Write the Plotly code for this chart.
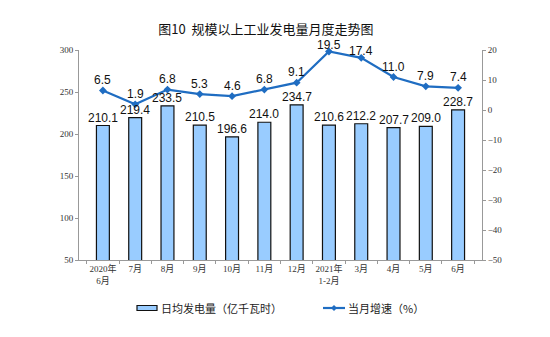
import plotly.graph_objects as go

months = ["2020年<br>6月", "7月", "8月", "9月", "10月", "11月", "12月",
          "2021年<br>1-2月", "3月", "4月", "5月", "6月"]
daily_output = [210.1, 219.4, 233.5, 210.5, 196.6, 214.0, 234.7,
                210.6, 212.2, 207.7, 209.0, 228.7]
growth = [6.5, 1.9, 6.8, 5.3, 4.6, 6.8, 9.1, 19.5, 17.4, 11.0, 7.9, 7.4]

BAR_NAME = "日均发电量（亿千瓦时）"
LINE_NAME = "当月增速（%）"
BAR_FILL = "#99CCFF"
LINE_COLOR = "#1F6DC2"

label_font = dict(family="Liberation Sans, Arial, sans-serif", size=12, color="#111111")
tick_font = dict(family="Liberation Serif, Noto Sans CJK SC, serif", size=9, color="#333333")
cjk = "Noto Sans CJK SC, sans-serif"

# plot area in pixels, used to place the hand-drawn legend
L, R, T, B = 79, 482, 50, 260


def px(x):
    return (x - L) / (R - L)


def py(y):
    return (B - y) / (B - T)


fig = go.Figure()
fig.add_trace(go.Bar(
    x=months, y=daily_output, name=BAR_NAME,
    marker=dict(color=BAR_FILL, line=dict(color="#111111", width=1.2)),
    width=0.4, showlegend=False,
))
fig.add_trace(go.Scatter(
    x=months, y=growth, name=LINE_NAME, yaxis="y2",
    mode="lines+markers",
    line=dict(color=LINE_COLOR, width=2.2),
    marker=dict(symbol="diamond", size=6, color=LINE_COLOR),
    cliponaxis=False, showlegend=False,
))

annotations = []
for m, v in zip(months, daily_output):
    annotations.append(dict(x=m, y=v, xref="x", yref="y", text=f"{v:.1f}",
                            showarrow=False, yanchor="bottom", yshift=-1,
                            font=label_font))
for m, v in zip(months, growth):
    # the two highest labels sit a little tighter so they clear the title
    shift = 7 if v > 15 else 10.5
    annotations.append(dict(x=m, y=v, xref="x", yref="y2", text=f"{v:.1f}",
                            showarrow=False, yanchor="middle", yshift=shift,
                            font=label_font))

# legend entries
legend_font = dict(family=cjk, size=11, color="#222222")
annotations.append(dict(x=px(159), y=py(308), xref="paper", yref="paper",
                        text=BAR_NAME, showarrow=False, xanchor="left",
                        yanchor="middle", font=legend_font))
annotations.append(dict(x=px(346), y=py(308), xref="paper", yref="paper",
                        text=LINE_NAME, showarrow=False, xanchor="left",
                        yanchor="middle", font=legend_font))

shapes = [
    dict(type="rect", xref="paper", yref="paper",
         x0=px(137), x1=px(157), y0=py(310.5), y1=py(305.5),
         fillcolor=BAR_FILL, line=dict(color="#111111", width=1.2)),
    dict(type="line", xref="paper", yref="paper",
         x0=px(323), x1=px(345), y0=py(308), y1=py(308),
         line=dict(color=LINE_COLOR, width=2.2)),
    dict(type="path", xref="paper", yref="paper",
         path=f"M {px(331)} {py(308)} L {px(334)} {py(305)} L {px(337)} {py(308)} "
              f"L {px(334)} {py(311)} Z",
         fillcolor=LINE_COLOR, line=dict(color=LINE_COLOR, width=0)),
]

fig.update_layout(
    width=550, height=337,
    margin=dict(l=L, r=550 - R, t=T, b=337 - B),
    paper_bgcolor="white", plot_bgcolor="white",
    title=dict(text="图10  规模以上工业发电量月度走势图", x=266 / 550,
               xanchor="center", y=1 - 29 / 337, yanchor="middle",
               font=dict(family=cjk, size=13, color="#111111")),
    showlegend=False,
    annotations=annotations,
    shapes=shapes,
    bargap=0.6,
    xaxis=dict(showline=True, linecolor="#999999", linewidth=1,
               ticks="outside", ticklen=3, tickcolor="#999999", tickangle=0,
               tickson="boundaries", tickfont=tick_font, showgrid=False),
    yaxis=dict(range=[50, 300], dtick=50, showline=True, linecolor="#999999",
               linewidth=1, ticks="outside", ticklen=3, tickcolor="#999999",
               tickfont=tick_font, showgrid=False, zeroline=False),
    yaxis2=dict(range=[-50, 20], dtick=10, overlaying="y", side="right",
                showline=True, linecolor="#999999", linewidth=1,
                ticks="outside", ticklen=3, tickcolor="#999999",
                tickfont=tick_font, showgrid=False, zeroline=False),
)

fig.write_html("out.html")
